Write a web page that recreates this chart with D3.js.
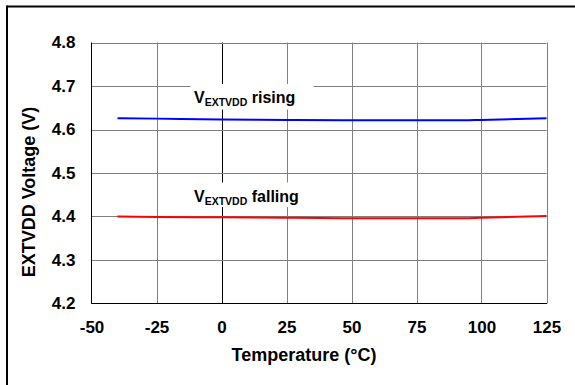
<!DOCTYPE html>
<html>
<head>
<meta charset="utf-8">
<script src="https://cdn.jsdelivr.net/npm/d3@7"></script>
<style>
  html, body { margin: 0; padding: 0; background: #fff; }
  svg { display: block; }
  text { font-family: "Liberation Sans", Arial, sans-serif; font-weight: bold; fill: #000; }
</style>
</head>
<body>
<svg id="chart" width="575" height="385"></svg>
<script>
// Threshold voltage of EXTVDD versus temperature
const temperatures = [-40, -25, 0, 25, 50, 75, 90, 100, 125];
const risingVolts  = [4.626, 4.625, 4.623, 4.622, 4.621, 4.621, 4.621, 4.622, 4.626];
const fallingVolts = [4.400, 4.399, 4.398, 4.397, 4.396, 4.396, 4.396, 4.397, 4.401];
const xTicks = [-50, -25, 0, 25, 50, 75, 100, 125];
const yTicks = [4.2, 4.3, 4.4, 4.5, 4.6, 4.7, 4.8];

const svg = d3.select("#chart");
const W = 575, H = 385;
const plot = { left: 91.5, right: 546.5, top: 42.5, bottom: 303.5 };

const x = d3.scaleLinear().domain([-50, 125]).range([plot.left, plot.right]);
const y = d3.scaleLinear().domain([4.2, 4.8]).range([plot.bottom, plot.top]);

// outer frame (top and left edges)
svg.append("line").attr("x1", 7).attr("x2", W).attr("y1", 6.5).attr("y2", 6.5)
  .attr("stroke", "#000").attr("stroke-width", 2);
svg.append("line").attr("x1", 7).attr("x2", 7).attr("y1", 5.5).attr("y2", H)
  .attr("stroke", "#000").attr("stroke-width", 2);

// grid
const grid = svg.append("g");
grid.selectAll("line.v").data(xTicks.filter(t => t !== -50)).join("line")
  .attr("x1", d => Math.round(x(d)) + 0.5).attr("x2", d => Math.round(x(d)) + 0.5)
  .attr("y1", plot.top).attr("y2", plot.bottom)
  .attr("stroke", d => d === 0 ? "#000" : "#808080").attr("stroke-width", 1);
grid.selectAll("line.h").data(yTicks.filter(t => t !== 4.2)).join("line")
  .attr("x1", plot.left).attr("x2", plot.right)
  .attr("y1", d => Math.round(y(d)) + 0.5).attr("y2", d => Math.round(y(d)) + 0.5)
  .attr("stroke", "#808080").attr("stroke-width", 1);

// axis lines: left and bottom
svg.append("line").attr("x1", plot.left).attr("x2", plot.left)
  .attr("y1", plot.top).attr("y2", plot.bottom + 0.5).attr("stroke", "#000");
svg.append("line").attr("x1", plot.left).attr("x2", plot.right + 0.5)
  .attr("y1", plot.bottom).attr("y2", plot.bottom).attr("stroke", "#000");

// axes via d3 (labels only)
const xAxis = d3.axisBottom(x).tickValues(xTicks).tickSize(0).tickPadding(17)
  .tickFormat(d => String(d));
const gx = svg.append("g").attr("transform", `translate(0,${plot.bottom})`).call(xAxis);
gx.select(".domain").remove();
gx.selectAll("text").attr("font-size", 17).attr("font-family", "Liberation Sans, Arial, sans-serif")
  .attr("font-weight", "bold").attr("fill", "#000");

const yAxis = d3.axisLeft(y).tickValues(yTicks).tickSize(0).tickPadding(16)
  .tickFormat(d3.format(".1f"));
const gy = svg.append("g").attr("transform", `translate(${plot.left},0)`).call(yAxis);
gy.select(".domain").remove();
gy.selectAll("text").attr("font-size", 17).attr("font-family", "Liberation Sans, Arial, sans-serif")
  .attr("font-weight", "bold").attr("fill", "#000");

// label boxes covering the grid
const labels = [
  { text: "rising",  box: [190.5, 84, 123, 25.5], tx: 194, ty: 103 },
  { text: "falling", box: [190.5, 182.5, 123, 24.5], tx: 194, ty: 202 }
];
labels.forEach(l => {
  svg.append("rect").attr("x", l.box[0]).attr("y", l.box[1])
    .attr("width", l.box[2]).attr("height", l.box[3]).attr("fill", "#fff");
  const t = svg.append("text").attr("x", l.tx).attr("y", l.ty).attr("font-size", 16);
  t.append("tspan").text("V");
  t.append("tspan").attr("font-size", 10.5).attr("dy", 3).text("EXTVDD");
  t.append("tspan").attr("dy", -3).text("\u00a0" + l.text);
});

// curves
const line = d3.line().x(d => x(d[0])).y(d => y(d[1])).curve(d3.curveMonotoneX);
svg.append("path").datum(d3.zip(temperatures, risingVolts))
  .attr("d", line).attr("fill", "none").attr("stroke", "#0000ff").attr("stroke-width", 2);
svg.append("path").datum(d3.zip(temperatures, fallingVolts))
  .attr("d", line).attr("fill", "none").attr("stroke", "#ff0000").attr("stroke-width", 2);

// axis titles
svg.append("text").attr("x", 304).attr("y", 361).attr("text-anchor", "middle")
  .attr("font-size", 18).text("Temperature (\u00b0C)");
svg.append("text").attr("transform", "translate(35,192) rotate(-90)")
  .attr("text-anchor", "middle").attr("font-size", 18).text("EXTVDD Voltage (V)");
</script>
</body>
</html>
